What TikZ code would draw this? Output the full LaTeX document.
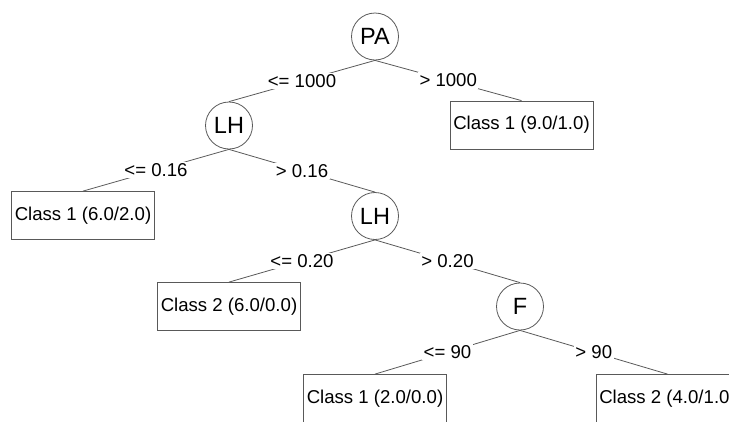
\documentclass[tikz,border=0pt]{standalone}
\usepackage{fontspec}
\setmainfont{Liberation Sans}

\begin{document}
\begin{tikzpicture}[x=1pt,y=-1pt,
  test/.style={circle, draw=black!65, line width=0.8pt, minimum size=47pt,
    inner sep=0pt, font=\fontsize{23.5}{25}\selectfont},
  leaf/.style={rectangle, draw=black!65, line width=0.8pt, minimum width=143pt,
    minimum height=48pt, inner sep=0pt, font=\fontsize{18.6}{20}\selectfont},
  branch/.style={draw=black!65, line width=0.8pt},
  cond/.style={fill=white, inner sep=1.5pt, font=\fontsize{18.6}{20}\selectfont}]
  \useasboundingbox (0,0) rectangle (729,421);
  \clip (0,0) rectangle (729,421);
  % tests
  \node[test] (pa)  at (375,36.5)  {PA};
  \node[test] (lhA) at (229,125.5) {LH};
  \node[test] (lhB) at (375,216)   {LH};
  \node[test] (f)   at (520,306.5) {F};
  % leaves
  \node[leaf] (cA) at (521.5,125)  {Class 1 (9.0/1.0)};
  \node[leaf] (cB) at (83,215.5)   {Class 1 (6.0/2.0)};
  \node[leaf] (cC) at (229,306.5)  {Class 2 (6.0/0.0)};
  \node[leaf] (cD) at (375,398.5)  {Class 1 (2.0/0.0)};
  \node[leaf] (cE) at (667.5,398.5) {Class 2 (4.0/1.0)};
  % branches
  \draw[branch] (pa.south)  -- node[cond] {<= 1000} (lhA.north);
  \draw[branch] (pa.south)  -- node[cond] {> 1000}  (cA.north);
  \draw[branch] (lhA.south) -- node[cond] {<= 0.16} (cB.north);
  \draw[branch] (lhA.south) -- node[cond] {> 0.16}  (lhB.north);
  \draw[branch] (lhB.south) -- node[cond] {<= 0.20} (cC.north);
  \draw[branch] (lhB.south) -- node[cond] {> 0.20}  (f.north);
  \draw[branch] (f.south)   -- node[cond] {<= 90}   (cD.north);
  \draw[branch] (f.south)   -- node[cond] {> 90}    (cE.north);
\end{tikzpicture}
\end{document}
